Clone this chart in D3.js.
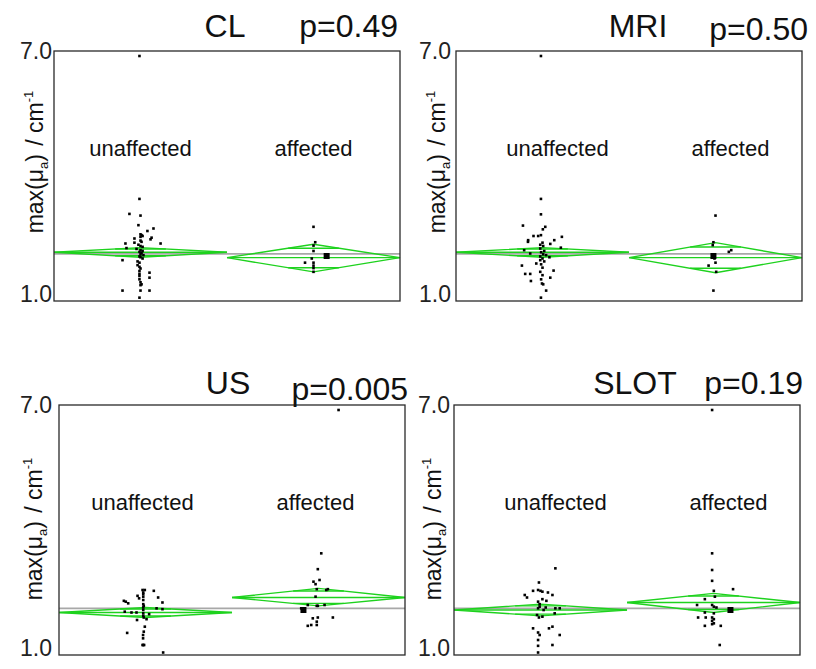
<!DOCTYPE html>
<html>
<head>
<meta charset="utf-8">
<script src="https://cdn.jsdelivr.net/npm/d3@7"></script>
<style>
  html, body { margin: 0; padding: 0; background: #fff; }
  svg { display: block; }
  text { font-family: "Liberation Sans", Arial, sans-serif; fill: #111; white-space: pre; }
</style>
</head>
<body>
<svg id="chart" width="816" height="669"></svg>
<script>
// ---- data -------------------------------------------------------------
const groups = ["unaffected", "affected"];
const yTicks = [1.0, 7.0];
const methods = ["CL", "MRI", "US", "SLOT"];
const pLabels = ["p=0.49", "p=0.50", "p=0.005", "p=0.19"];

// each observation: [max(mu_a) in 1/cm, horizontal jitter as fraction of group band]
const clUnaffected = [[6.88,-0.006],[3.45,-0.006],[3.09,-0.064],[3.05,0.0],[2.82,-0.012],[2.74,0.075],[2.68,0.04],[2.60,0.0],[2.58,0.006],[2.56,0.012],[2.54,0.0],[2.52,0.064],[2.50,-0.035],[2.48,0.058],[2.45,0.0],[2.42,0.006],[2.40,-0.035],[2.38,-0.087],[2.38,0.116],[2.35,-0.012],[2.32,0.0],[2.30,0.012],[2.27,-0.081],[2.25,-0.023],[2.22,0.0],[2.20,0.012],[2.18,-0.006],[2.15,0.006],[2.12,0.0],[2.10,0.017],[2.07,-0.006],[2.05,0.0],[2.02,0.012],[1.98,-0.104],[1.95,-0.017],[1.92,-0.006],[1.86,-0.017],[1.82,-0.006],[1.78,0.0],[1.72,-0.006],[1.68,0.052],[1.65,-0.006],[1.60,-0.006],[1.56,0.052],[1.52,-0.006],[1.45,0.0],[1.40,0.006],[1.38,0.0],[1.25,-0.104],[1.25,0.0],[1.25,0.052],[1.08,-0.006]];
const clAffected = [[2.78,0.0],[2.41,0.01],[2.33,0.0],[2.20,0.0],[2.02,-0.01],[1.92,-0.049],[1.92,0.0],[1.85,0.0],[1.79,0.0],[1.70,0.0]];
const clMarked = [2.08, 0.076];

const mriUnaffected = [[6.88,-0.009],[3.45,-0.009],[3.08,-0.009],[2.81,-0.113],[2.78,0.016],[2.72,0.002],[2.58,-0.009],[2.56,-0.052],[2.56,-0.025],[2.54,0.112],[2.46,-0.083],[2.46,0.068],[2.42,-0.084],[2.40,0.0],[2.37,0.045],[2.35,-0.013],[2.32,0.004],[2.28,0.106],[2.26,-0.013],[2.22,-0.106],[2.20,0.01],[2.17,-0.008],[2.14,-0.071],[2.12,0.004],[2.10,0.021],[2.07,-0.013],[2.05,0.04],[2.02,0.0],[1.98,-0.013],[1.95,0.01],[1.90,-0.036],[1.88,-0.008],[1.85,-0.119],[1.80,0.0],[1.73,0.064],[1.70,-0.013],[1.65,-0.1],[1.65,-0.071],[1.62,0.0],[1.56,0.045],[1.52,-0.008],[1.48,-0.067],[1.42,-0.003],[1.40,0.004],[1.25,0.021],[1.08,-0.009]];
const mriAffected = [[3.05,0.0],[2.41,-0.012],[2.34,-0.016],[2.22,0.091],[2.18,0.077],[2.02,-0.006],[1.92,0.0],[1.85,-0.04],[1.70,0.004],[1.25,-0.012]];
const mriMarked = [2.08, -0.012];

const usUnaffected = [[2.56,-0.017],[2.56,-0.004],[2.54,0.048],[2.50,-0.013],[2.46,-0.013],[2.42,-0.046],[2.40,-0.013],[2.38,0.073],[2.36,-0.037],[2.32,-0.013],[2.30,-0.125],[2.28,-0.114],[2.26,0.098],[2.24,-0.1],[2.22,-0.013],[2.18,-0.01],[2.14,-0.013],[2.12,0.064],[2.10,0.098],[2.08,-0.013],[2.04,-0.12],[2.02,-0.081],[2.02,-0.052],[2.00,-0.013],[1.98,0.021],[1.94,-0.013],[1.90,-0.01],[1.86,0.006],[1.84,-0.049],[1.68,-0.004],[1.56,-0.01],[1.53,-0.106],[1.48,-0.014],[1.40,-0.014],[1.24,-0.017],[1.24,-0.008],[1.24,-0.013],[1.06,0.102]];
const usAffected = [[6.88,0.116],[3.44,0.016],[3.06,-0.004],[2.80,0.006],[2.76,-0.029],[2.70,-0.017],[2.58,-0.01],[2.56,0.045],[2.58,0.054],[2.40,-0.017],[2.20,-0.062],[2.18,-0.01],[2.18,-0.004],[2.20,0.035],[2.12,-0.1],[1.90,-0.004],[1.88,-0.033],[1.90,0.083],[1.80,-0.01],[1.70,-0.062],[1.72,-0.01],[1.72,-0.042]];
const usMarked = [2.08, -0.087];

const slotUnaffected = [[3.08,0.086],[2.74,-0.009],[2.56,-0.014],[2.54,0.0],[2.52,0.011],[2.54,-0.043],[2.50,0.043],[2.44,0.069],[2.44,-0.091],[2.38,-0.078],[2.34,0.011],[2.30,0.034],[2.28,-0.014],[2.22,-0.005],[2.16,-0.005],[2.12,-0.014],[2.14,0.03],[2.08,0.018],[2.12,0.111],[2.12,0.086],[2.00,0.082],[1.96,-0.02],[1.90,-0.009],[1.92,0.011],[1.68,0.069],[1.64,0.049],[1.64,-0.043],[1.54,-0.014],[1.48,-0.005],[1.48,0.111],[1.36,-0.014],[1.24,0.069],[1.22,-0.014],[1.06,-0.014]];
const slotAffected = [[6.88,-0.008],[3.44,-0.008],[3.04,-0.008],[2.78,-0.008],[2.58,0.113],[2.54,0.002],[2.34,-0.05],[2.40,0.008],[2.20,-0.095],[2.20,-0.008],[2.16,0.002],[2.14,0.017],[2.02,-0.05],[2.00,0.002],[1.90,-0.089],[1.90,-0.045],[1.90,-0.008],[1.86,0.002],[1.82,-0.008],[1.70,-0.05],[1.74,-0.008],[1.76,0.002],[1.70,0.042],[1.24,0.036]];
const slotMarked = [2.08, 0.098];

// group means with 95% confidence limits: [mean, lower, upper]
const unaffectedStats = [[2.17,2.05,2.28],[2.17,2.05,2.28],[2.02,1.90,2.14],[2.08,1.94,2.22]];
const affectedStats   = [[2.04,1.70,2.36],[2.04,1.68,2.40],[2.38,2.18,2.60],[2.26,2.02,2.48]];
const grandMeans = [2.13, 2.13, 2.12, 2.12];

// ---- layout -----------------------------------------------------------
const W = 346, H = 250;
const frames = [
  {x: 54,  y: 51,  tickX: -2, labX: 43,  labY: 111, nameX: 225, nameY: 36.5,  pX: 398, pY: 36.5,  grpShift: 0},
  {x: 456, y: 51,  tickX: -5, labX: 445, labY: 111, nameX: 638, nameY: 36.5,  pX: 808, pY: 39.5,  grpShift: 15},
  {x: 59,  y: 405, tickX: -7, labX: 41.5, labY: 124, nameX: 228, nameY: 393.5, pX: 408, pY: 399.5, grpShift: -3},
  {x: 454, y: 405, tickX: -4, labX: 441, labY: 124, nameX: 635, nameY: 393.5, pX: 803, pY: 393.5, grpShift: 15}
];
const pointSets = [
  [clUnaffected, clAffected, clMarked],
  [mriUnaffected, mriAffected, mriMarked],
  [usUnaffected, usAffected, usMarked],
  [slotUnaffected, slotAffected, slotMarked]
];

const svg = d3.select("#chart");
const green = "#1ed21e";

function label(g, x, y, str, size, anchor) {
  return g.append("text")
    .attr("x", x).attr("y", y)
    .attr("text-anchor", anchor)
    .style("font-size", size + "px")
    .text(str);
}

methods.forEach((m, i) => {
  const f = frames[i];
  const g = svg.append("g");
  const y = d3.scaleLinear().domain([1, 7]).range([f.y + H, f.y]);
  const x = d3.scaleBand().domain(groups).range([f.x, f.x + W]);
  const bw = x.bandwidth();
  const cx = grp => x(grp) + bw / 2;

  // grand mean reference line
  g.append("line")
    .attr("x1", f.x).attr("x2", f.x + W)
    .attr("y1", y(grandMeans[i])).attr("y2", y(grandMeans[i]))
    .attr("stroke", "#a8a8a8").attr("stroke-width", 1.6);

  // means diamonds with overlap marks
  [unaffectedStats[i], affectedStats[i]].forEach((s, gi) => {
    const grp = groups[gi];
    const x0 = x(grp), x1 = x(grp) + bw, xc = cx(grp);
    const [mean, lo, hi] = s;
    const dg = g.append("g").attr("stroke", green).attr("stroke-width", 1.4).attr("fill", "none");
    dg.append("path").attr("d", d3.line()([[x0, y(mean)], [xc, y(hi)], [x1, y(mean)], [xc, y(lo)], [x0, y(mean)]]));
    dg.append("line").attr("x1", x0).attr("x2", x1).attr("y1", y(mean)).attr("y2", y(mean));
    const k = 1 / Math.SQRT2;
    const half = (bw / 2) * (1 - k);
    [mean + (hi - mean) * k, mean - (mean - lo) * k].forEach(v => {
      dg.append("line").attr("x1", xc - half).attr("x2", xc + half)
        .attr("y1", y(v)).attr("y2", y(v));
    });
  });

  // observations
  const [un, af, mk] = pointSets[i];
  [[un, groups[0]], [af, groups[1]]].forEach(([pts, grp]) => {
    g.selectAll(null).data(pts).enter().append("rect")
      .attr("x", d => cx(grp) + d[1] * bw - 1.3)
      .attr("y", d => y(d[0]) - 1.3)
      .attr("width", 2.6).attr("height", 2.6)
      .attr("fill", "#000");
  });
  g.append("rect")
    .attr("x", cx(groups[1]) + mk[1] * bw - 3)
    .attr("y", y(mk[0]) - 3)
    .attr("width", 6).attr("height", 6).attr("fill", "#000");

  // frame
  g.append("rect").attr("x", f.x).attr("y", f.y).attr("width", W).attr("height", H)
    .attr("fill", "none").attr("stroke", "#2a2a2a").attr("stroke-width", 1.3);

  // y tick labels
  yTicks.forEach(t => {
    const ty = t === 7 ? y(t) + 7.5 : y(t) + 1;
    label(g, f.x + f.tickX, ty, t.toFixed(1), 23, "end").style("fill", "#222");
  });

  // group labels
  groups.forEach(grp => {
    label(g, cx(grp) + f.grpShift, f.y + 105, grp, 22, "middle");
  });

  // titles
  label(g, f.nameX, f.nameY, m, 32, "middle");
  label(g, f.pX, f.pY, pLabels[i], 32, "end");

  // y axis title
  const yl = g.append("text")
    .attr("transform", `translate(${f.labX},${f.y + f.labY}) rotate(-90)`)
    .attr("text-anchor", "middle")
    .style("font-size", "23px");
  yl.append("tspan").text("max(\u03bc");
  yl.append("tspan").attr("dy", 5).style("font-size", "13px").text("a");
  yl.append("tspan").attr("dy", -5).text(") ");
  yl.append("tspan").attr("dx", 2).text("/ cm");
  yl.append("tspan").attr("dy", -10).style("font-size", "13px").text("-1");
});
</script>
</body>
</html>
